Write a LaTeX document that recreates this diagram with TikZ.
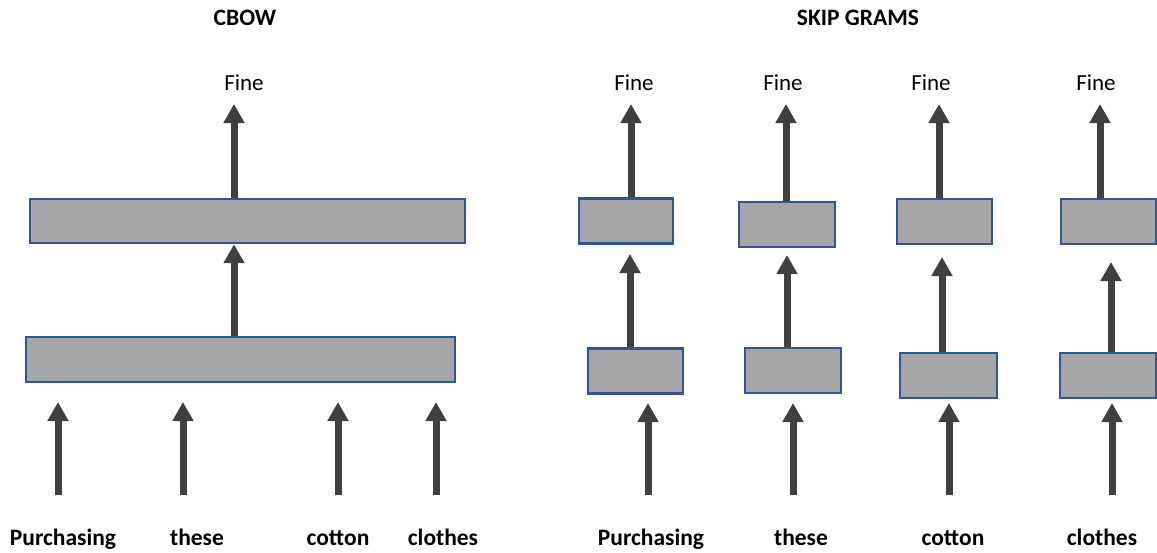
\documentclass[tikz,border=0pt]{standalone}
\usepackage{fontspec}
\setmainfont{Carlito}
\usetikzlibrary{arrows.meta}

\definecolor{boxfill}{HTML}{A6A6A6}
\definecolor{boxline}{HTML}{2F5597}
\definecolor{arrowgray}{HTML}{404040}

\tikzset{
  layerbox/.style={draw=boxline, fill=boxfill, line width=2.4pt, inner sep=0pt},
  arr/.style={draw=arrowgray, line width=7pt,
    -{Triangle[length=19pt, width=20pt]}},
  title/.style={anchor=base, font=\fontsize{23.5}{28}\selectfont\bfseries},
  outword/.style={anchor=base, font=\fontsize{23}{28}\selectfont},
  inword/.style={anchor=base, font=\fontsize{23.5}{28}\selectfont\bfseries},
}

\begin{document}
\begin{tikzpicture}[x=1pt, y=-1pt]
\useasboundingbox (0,0) rectangle (1157,552);

% ---------------- CBOW ----------------
\node[title] (cbow) at (245,25.5) {CBOW};
\node[outword] (cfine) at (244,90) {Fine};

\node[layerbox, minimum width=435pt, minimum height=44pt] (cup) at (247.5,221) {};
\node[layerbox, minimum width=429pt, minimum height=45pt] (clow) at (240.5,359.5) {};

\coordinate (ctip) at (234,104);
\coordinate (cmid) at (234,245);
\draw[arr] (cup.north -| ctip) -- (ctip);
\draw[arr] (clow.north -| cmid) -- (cup.south -| cmid);

\foreach \name/\x/\lx/\word in {a/58/63/Purchasing, b/183/197/these, c/338/338/cotton, d/436/443/clothes}{
  \node[inword] (cin\name) at (\lx,545) {\word};
  \coordinate (cs\name) at (\x,495);
  \coordinate (ct\name) at (\x,402);
  \draw[arr] (cs\name) -- (ct\name);
}

% ---------------- SKIP GRAMS ----------------
\node[title] (skip) at (858,25.5) {SKIP GRAMS};

% name / fine x / top arrow x / upper box (cx,cy,w) / lower box (cx,cy,w) / middle arrow x, tip y / input arrow x / word x / word
\foreach \n/\fx/\tx/\ux/\uy/\uw/\lx/\ly/\lw/\mx/\my/\ix/\wx/\word in {
  1/634/631/626/221/94/635.5/371/95/630/254/648/651/Purchasing,
  2/783/786/787/224.5/96/793/370.5/96/787/255/793/801/these,
  3/931/939/944.5/221.5/95/948.5/375.5/97/942/257/949/953/cotton,
  4/1096/1100/1108.5/221.5/95/1108/375.5/96/1111/262/1112/1102/clothes}{
  \node[outword] (sfine\n) at (\fx,90) {Fine};
  \node[layerbox, minimum width=\uw pt, minimum height=45pt] (sup\n) at (\ux,\uy) {};
  \node[layerbox, minimum width=\lw pt, minimum height=45pt] (slow\n) at (\lx,\ly) {};
  \coordinate (stt\n) at (\tx,104);
  \draw[arr] (sup\n.north -| stt\n) -- (stt\n);
  \coordinate (smt\n) at (\mx,\my);
  \draw[arr] (slow\n.north -| smt\n) -- (smt\n);
  \node[inword] (sin\n) at (\wx,545) {\word};
  \coordinate (sis\n) at (\ix,495);
  \coordinate (sit\n) at (\ix,403);
  \draw[arr] (sis\n) -- (sit\n);
}
\end{tikzpicture}
\end{document}
